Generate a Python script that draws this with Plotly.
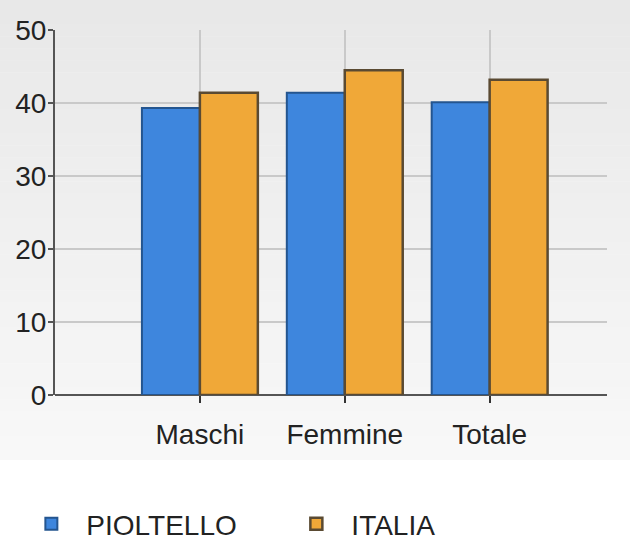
import plotly.graph_objects as go

categories = ["Maschi", "Femmine", "Totale"]
pioltello = [39.3, 41.4, 40.1]
italia = [41.4, 44.5, 43.2]
y_ticks = [0, 10, 20, 30, 40, 50]

FONT = "Liberation Sans, Arial, sans-serif"

fig = go.Figure()
fig.add_trace(go.Bar(
    name="PIOLTELLO", x=categories, y=pioltello,
    marker=dict(color="#3e86dd", line=dict(color="#24558f", width=2)),
))
fig.add_trace(go.Bar(
    name="ITALIA", x=categories, y=italia,
    marker=dict(color="#f0a838", line=dict(color="#5a4a32", width=2.5)),
))

# soft vertical background gradient (grey at top -> white at bottom)
W, H = 630, 545
L, R, T, B = 55, 23, 30, 150
pw, ph = W - L - R, H - T - B
n = 45
shapes = []
for i in range(n):
    top_px = i * H / n
    bot_px = (i + 1) * H / n
    if top_px < 450:
        f = top_px / 450
        g = int(round(232 + (248 - 232) * f))
    else:
        g = 255
    shapes.append(dict(
        type="rect", xref="paper", yref="paper", layer="below",
        x0=-L / pw, x1=1 + R / pw,
        y0=(H - B - bot_px) / ph - 0.0005, y1=(H - B - top_px) / ph + 0.0005,
        fillcolor=f"rgb({g},{g},{g})", line=dict(width=0),
    ))

fig.update_layout(
    width=W, height=H,
    margin=dict(l=L, r=R, t=T, b=B, autoexpand=False),
    paper_bgcolor="white",
    plot_bgcolor="rgba(0,0,0,0)",
    barmode="group", bargap=0.2, bargroupgap=0,
    font=dict(family=FONT, size=28, color="#222222"),
    shapes=shapes,
    showlegend=True,
    legend=dict(
        orientation="h", x=-0.07, xanchor="left", y=-0.285, yanchor="top",
        font=dict(family=FONT, size=28, color="#222222"),
        bgcolor="rgba(0,0,0,0)", itemwidth=60, traceorder="normal",
        entrywidth=190, entrywidthmode="pixels",
    ),
    xaxis=dict(
        range=[-1, 2.81], automargin=False,
        showgrid=True, gridcolor="#c9c9c9", gridwidth=2,
        ticks="outside", ticklen=7, tickcolor="#333333", tickwidth=2,
        showline=False, zeroline=False, ticklabelstandoff=7,
        tickfont=dict(family=FONT, size=28, color="#222222"),
    ),
    yaxis=dict(
        range=[0, 50], tickvals=y_ticks, automargin=False,
        showgrid=True, gridcolor="#c9c9c9", gridwidth=2,
        zeroline=True, zerolinecolor="#555555", zerolinewidth=2,
        showline=True, linecolor="#555555", linewidth=2,
        ticks="outside", ticklen=5, tickcolor="#555555", tickwidth=2,
        ticklabelstandoff=-4,
        tickfont=dict(family=FONT, size=28, color="#222222"),
    ),
)

fig.write_html(
    "out.html",
    config={"displayModeBar": False},
    post_script="document.body.style.margin='0';",
)
